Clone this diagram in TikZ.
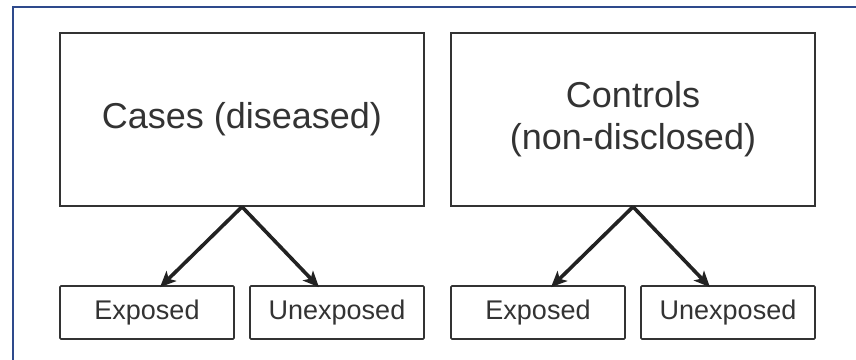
\documentclass[tikz,border=0pt]{standalone}
\usepackage{fontspec}
\setmainfont{Liberation Sans}
\usetikzlibrary{arrows.meta}
\definecolor{boxline}{HTML}{333333}
\definecolor{arrline}{HTML}{222222}
\definecolor{txt}{HTML}{333333}
\definecolor{frameblue}{HTML}{2E4A8C}
\tikzset{
  bigbox/.style={draw=boxline, line width=1.6pt, minimum width=364pt, minimum height=173pt,
    inner sep=0pt, align=center, text=txt, font=\fontsize{36}{42}\selectfont},
  smallbox/.style={draw=boxline, line width=1.6pt, rounded corners=1pt, minimum width=174pt, minimum height=53pt,
    inner sep=0pt, text=txt, font=\fontsize{27}{32}\selectfont},
  arr/.style={draw=arrline, line width=3.6pt, -{Stealth[length=16pt,width=14pt,inset=4pt]}}
}
\begin{document}
\begin{tikzpicture}[x=1pt,y=-1pt]
\useasboundingbox (0,0) rectangle (856,359);
\begin{scope}
\clip (0,0) rectangle (856,359);
\draw[frameblue, line width=2pt] (13,7) rectangle (870,380);
\end{scope}
\node[bigbox] (cases) at (242,119.5) {Cases (diseased)};
\node[bigbox] (controls) at (633,119.5) {Controls\\(non-disclosed)};
\node[smallbox] (e1) at (147,312.5) {Exposed};
\node[smallbox] (u1) at (337,312.5) {Unexposed};
\node[smallbox] (e2) at (538,312.5) {Exposed};
\node[smallbox] (u2) at (728,312.5) {Unexposed};
\draw[arr] (cases.south) -- ([xshift=13pt,yshift=-2pt]e1.north);
\draw[arr] (cases.south) -- ([xshift=-18pt,yshift=-2pt]u1.north);
\draw[arr] (controls.south) -- ([xshift=13pt,yshift=-2pt]e2.north);
\draw[arr] (controls.south) -- ([xshift=-18pt,yshift=-2pt]u2.north);
\end{tikzpicture}
\end{document}
